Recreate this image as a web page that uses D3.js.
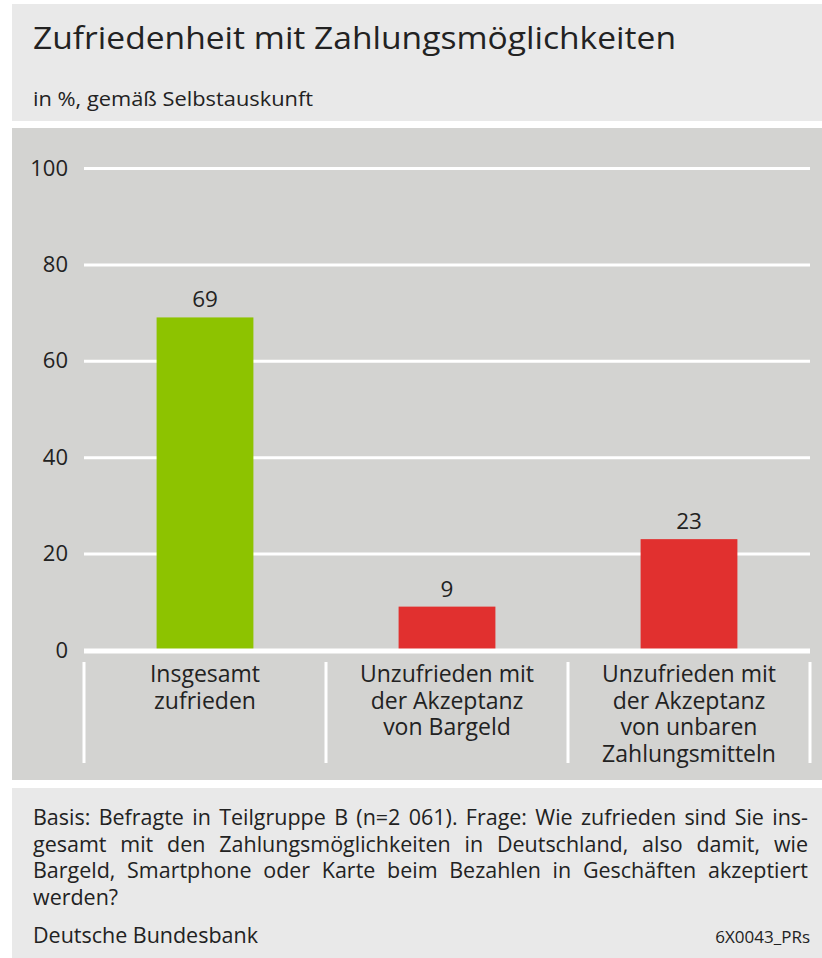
<!DOCTYPE html>
<html>
<head>
<meta charset="utf-8">
<script src="https://cdn.jsdelivr.net/npm/d3@7"></script>
<style>
  body { margin: 0; background: #fff; }
  svg { display: block; }
  text { fill: #222; font-family: "Open Sans", "Noto Sans", sans-serif; }
</style>
</head>
<body>
<div id="chart"></div>
<script>
// Chart data
const categories = ["Insgesamt zufrieden", "Unzufrieden Bargeld", "Unzufrieden unbar"];
const values = [69, 9, 23];
const barColors = ["#8dc300", "#e1302f", "#e1302f"];
const categoryLines = [
    ["Insgesamt", "zufrieden"],
    ["Unzufrieden mit", "der Akzeptanz", "von Bargeld"],
    ["Unzufrieden mit", "der Akzeptanz", "von unbaren", "Zahlungsmitteln"]
];
const yTicks = [0, 20, 40, 60, 80, 100];

const title = "Zufriedenheit mit Zahlungsmöglichkeiten";
const subtitle = "in %, gemäß Selbstauskunft";
const noteLines = [
    "Basis: Befragte in Teilgruppe B (n=2 061). Frage: Wie zufrieden sind Sie ins-",
    "gesamt mit den Zahlungsmöglichkeiten in Deutschland, also damit, wie",
    "Bargeld, Smartphone oder Karte beim Bezahlen in Geschäften akzeptiert",
    "werden?"
];
const source = "Deutsche Bundesbank";
const code = "6X0043_PRs";

// Layout
const width = 822;
const height = 958;
const plotLeft = 84, plotRight = 810;
const plotTop = 168, plotBottom = 650;

const svg = d3.select('#chart')
    .append('svg')
    .attr('width', width)
    .attr('height', height);

// Background panels
svg.append('rect').attr('x', 12).attr('y', 4).attr('width', width - 12).attr('height', 117).attr('fill', '#e9e9e9');
svg.append('rect').attr('x', 12).attr('y', 128).attr('width', width - 12).attr('height', 652).attr('fill', '#d3d3d1');
svg.append('rect').attr('x', 12).attr('y', 788).attr('width', width - 12).attr('height', height - 788).attr('fill', '#e9e9e9');

// Titles
svg.append('text')
    .attr('x', 33).attr('y', 49)
    .attr('font-size', 31)
    .attr('textLength', 643)
    .attr('lengthAdjust', 'spacingAndGlyphs')
    .attr('fill', '#1a1a1a')
    .text(title);

svg.append('text')
    .attr('x', 33).attr('y', 106)
    .attr('font-size', 19.5)
    .attr('textLength', 280)
    .attr('lengthAdjust', 'spacingAndGlyphs')
    .attr('fill', '#333')
    .text(subtitle);

// Scales
const x = d3.scaleBand()
    .domain(categories)
    .range([plotLeft, plotRight])
    .paddingInner(0.6)
    .paddingOuter(0.3);

const y = d3.scaleLinear()
    .domain([0, 100])
    .range([plotBottom, plotTop]);

// Y axis with gridlines
const yAxis = svg.append('g')
    .attr('transform', `translate(${plotLeft},0)`)
    .call(d3.axisLeft(y)
        .tickValues(yTicks)
        .tickSize(-(plotRight - plotLeft))
        .tickPadding(16));

yAxis.select('.domain').remove();
yAxis.selectAll('.tick line')
    .attr('stroke', '#fff')
    .attr('stroke-width', 3);
yAxis.selectAll('.tick text')
    .attr('font-size', 22)
    .attr('font-family', '"Open Sans", sans-serif')
    .attr('fill', '#333');

// Bars
svg.selectAll('.bar')
    .data(values)
    .enter()
    .append('rect')
    .attr('class', 'bar')
    .attr('x', (d, i) => x(categories[i]))
    .attr('y', d => y(d))
    .attr('width', x.bandwidth())
    .attr('height', d => y(0) - y(d))
    .attr('fill', (d, i) => barColors[i]);

// Value labels
svg.selectAll('.value-label')
    .data(values)
    .enter()
    .append('text')
    .attr('class', 'value-label')
    .attr('x', (d, i) => x(categories[i]) + x.bandwidth() / 2)
    .attr('y', d => y(d) - 10)
    .attr('text-anchor', 'middle')
    .attr('font-size', 22.5)
    .attr('fill', '#333')
    .text(d => d);

// Zero line on top
svg.append('line')
    .attr('x1', plotLeft).attr('x2', plotRight)
    .attr('y1', y(0) + 1).attr('y2', y(0) + 1)
    .attr('stroke', '#fff')
    .attr('stroke-width', 5);

// Category separators
const step = x.step();
const seps = d3.range(categories.length + 1).map(i => plotLeft + i * step);
svg.selectAll('.sep')
    .data(seps)
    .enter()
    .append('line')
    .attr('class', 'sep')
    .attr('x1', d => d).attr('x2', d => d)
    .attr('y1', 662).attr('y2', 763)
    .attr('stroke', '#fff')
    .attr('stroke-width', 3);

// Category labels
categoryLines.forEach((lines, i) => {
    const t = svg.append('text')
        .attr('text-anchor', 'middle')
        .attr('font-size', 23)
        .attr('fill', '#1a1a1a');
    lines.forEach((line, j) => {
        t.append('tspan')
            .attr('x', x(categories[i]) + x.bandwidth() / 2)
            .attr('y', 682 + j * 26.7)
            .text(line);
    });
});

// Footer note: condensed look via horizontal scale, justified with word-spacing
const noteLeft = 33, noteRight = 808;
const footSize = 22;
const probe = svg.append('text').attr('font-size', footSize).text(source);
const sx = 225 / probe.node().getComputedTextLength();
probe.remove();

const foot = svg.append('g')
    .attr('transform', `translate(${noteLeft},0) scale(${sx},1)`);
const innerWidth = (noteRight - noteLeft) / sx;

noteLines.forEach((line, i) => {
    const t = foot.append('text')
        .attr('x', 0).attr('y', 825 + i * 26.7)
        .attr('font-size', footSize)
        .attr('fill', '#333')
        .text(line);
    if (i < noteLines.length - 1) {
        const spaces = line.split(' ').length - 1;
        const extra = (innerWidth - t.node().getComputedTextLength()) / spaces;
        t.attr('word-spacing', extra);
    }
});

foot.append('text')
    .attr('x', 0).attr('y', 943)
    .attr('font-size', footSize)
    .attr('fill', '#333')
    .text(source);

svg.append('text')
    .attr('x', 810).attr('y', 943)
    .attr('text-anchor', 'end')
    .attr('font-size', 17)
    .attr('fill', '#333')
    .text(code);
</script>
</body>
</html>
